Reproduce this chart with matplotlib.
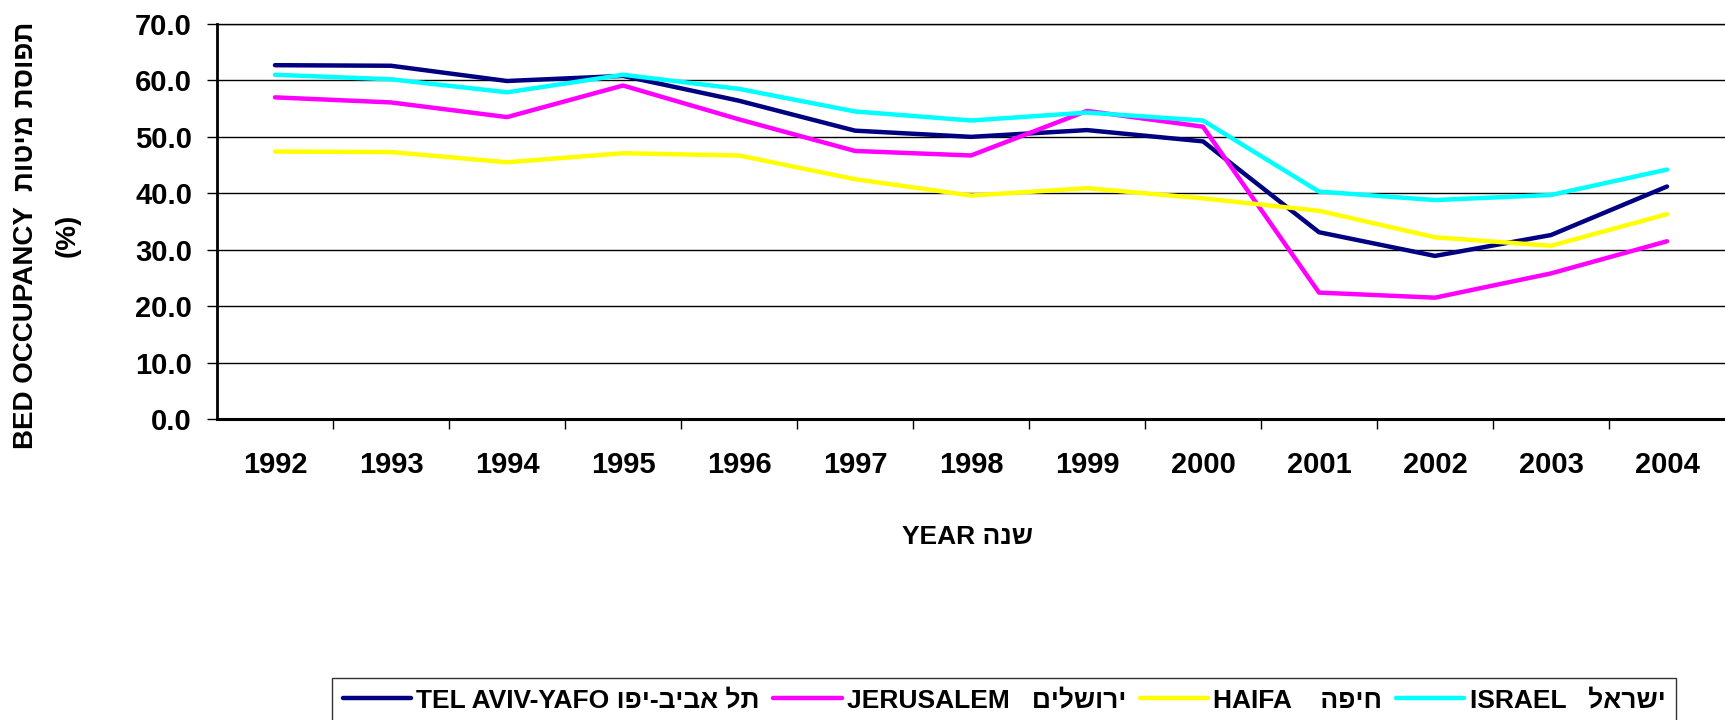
import matplotlib
matplotlib.use("Agg")
import matplotlib.pyplot as plt
from matplotlib.ticker import FixedLocator

plt.rcParams['font.family'] = ['Liberation Sans', 'DejaVu Sans']
plt.rcParams['font.weight'] = 'bold'

years = ["1992", "1993", "1994", "1995", "1996", "1997", "1998",
         "1999", "2000", "2001", "2002", "2003", "2004"]
tel_aviv = [62.7, 62.6, 59.9, 60.8, 56.4, 51.1, 50.0, 51.2, 49.2, 33.1, 28.9, 32.6, 41.2]
jerusalem = [57.0, 56.1, 53.5, 59.1, 53.1, 47.5, 46.7, 54.6, 51.8, 22.4, 21.5, 25.8, 31.5]
haifa = [47.4, 47.3, 45.5, 47.1, 46.7, 42.5, 39.6, 40.9, 39.1, 36.9, 32.2, 30.7, 36.3]
israel = [61.0, 60.2, 57.9, 61.0, 58.5, 54.5, 52.9, 54.3, 52.9, 40.3, 38.8, 39.7, 44.2]

def rtl(s):
    return s[::-1]

labels = ["TEL AVIV-YAFO " + rtl("תל אביב-יפו"),
          "JERUSALEM   " + rtl("ירושלים"),
          "HAIFA    " + rtl("חיפה"),
          "ISRAEL   " + rtl("ישראל")]
colors = ["#000080", "#FF00FF", "#FFFF00", "#00FFFF"]
series = [tel_aviv, jerusalem, haifa, israel]

fig = plt.figure(figsize=(17.25, 7.2), dpi=100)
ax = fig.add_axes([217/1725, 1-419/720, 1-217/1725, (419-24)/720])

x = list(range(len(years)))
handles = []
for s, c, l in zip(series, colors, labels):
    h, = ax.plot(x, s, color=c, lw=3.2, label=l, solid_capstyle='round', zorder=3)
    handles.append(h)

ax.set_xlim(-0.5, len(years) - 0.5)
ax.set_ylim(0, 70)
ax.set_yticks([0, 10, 20, 30, 40, 50, 60, 70])
ax.set_yticklabels([f"{v:.1f}" for v in [0, 10, 20, 30, 40, 50, 60, 70]])
ax.set_xticks(x)
ax.set_xticklabels(years)
ax.xaxis.set_minor_locator(FixedLocator([i + 0.5 for i in range(len(years) - 1)]))
ax.tick_params(axis='x', which='major', length=0, pad=23, labelsize=21)
ax.tick_params(axis='x', which='minor', length=7, width=1, direction='out')
ax.tick_params(axis='y', which='major', length=7, width=1, direction='out', pad=11, labelsize=21)
ax.grid(axis='y', color='black', lw=1)
ax.set_axisbelow(True)
ax.spines['right'].set_visible(False)
ax.spines['top'].set_linewidth(1)
ax.spines['left'].set_linewidth(2)
ax.spines['bottom'].set_linewidth(2.2)

fig.text(26/1725, 1-235/720, "BED OCCUPANCY  " + rtl("תפוסת מיטות"),
         rotation=90, ha='center', va='center', fontsize=20, fontweight='bold')
fig.text(68/1725, 1-235/720, "(%)", rotation=90, ha='center', va='center',
         fontsize=20, fontweight='bold')
fig.text(968/1725, 1-537/720, "YEAR " + rtl("שנה"), ha='center', va='center',
         fontsize=19, fontweight='bold')

leg = fig.legend(handles=handles, labels=labels, loc='upper left',
                 bbox_to_anchor=(332/1725, 1-678/720), ncol=4, fontsize=19,
                 frameon=True, fancybox=False, edgecolor='black', borderaxespad=0,
                 handlelength=2.6, handletextpad=0.2, columnspacing=0.5,
                 borderpad=0.4)
leg.get_frame().set_linewidth(1)

fig.savefig("out.png", dpi=100)
